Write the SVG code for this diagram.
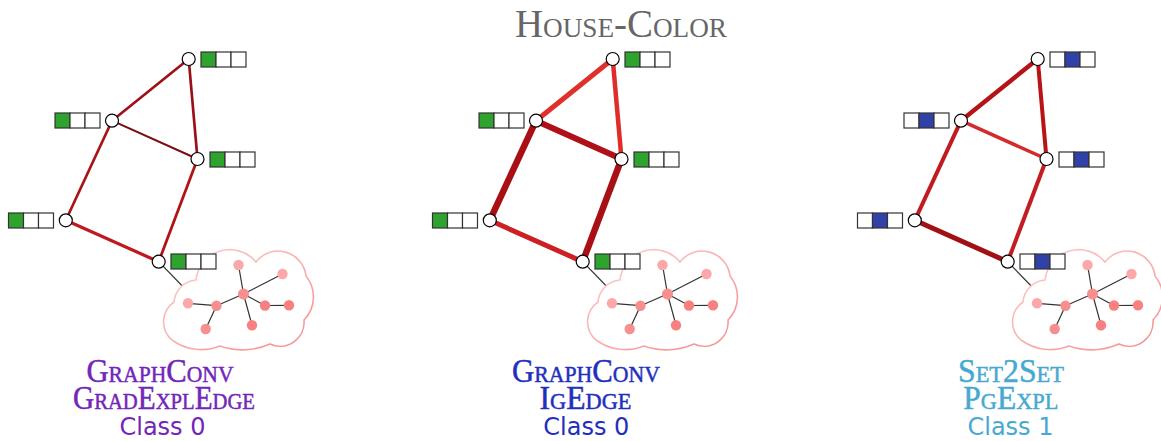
<svg xmlns="http://www.w3.org/2000/svg" width="1161" height="441" viewBox="0 0 1161 441">
<style>
  .node { fill: #ffffff; stroke: #000000; stroke-width: 1.2; }
  .cell { fill: #ffffff; stroke: #333333; stroke-width: 1.2; }
  .g { fill: #2ea32e; }
  .b { fill: #3041a8; }
  .edge { fill: none; stroke-linecap: butt; }
  .link { stroke: #333333; stroke-width: 1.2; }
  .cloud { fill: #ffffff; stroke: url(#cloudGrad); stroke-width: 1.6; }
  .ie { stroke: #333333; stroke-width: 1.2; }
  .c1 { fill: #fca8a8; }
  .c2 { fill: #f98e8e; }
  .c3 { fill: #f98080; }
  .title { font-family: "Liberation Serif", serif; font-size: 40px; font-variant: small-caps; fill: #666666; text-anchor: middle; }
  .lab { font-family: "Liberation Serif", serif; font-size: 34px; font-variant: small-caps; text-anchor: middle; stroke-width: 0.5; }
  .cls { font-family: "DejaVu Sans", sans-serif; font-size: 24px; text-anchor: middle; }
  .purple { fill: #7326b8; stroke: #7326b8; }
  .blue { fill: #1f30bd; stroke: #1f30bd; }
  .sky { fill: #47a9d1; stroke: #47a9d1; }
  .cls.purple, .cls.blue, .cls.sky { stroke: none; }
</style>
<defs>
  <linearGradient id="cloudGrad" x1="0" y1="0" x2="1" y2="1">
    <stop offset="0" stop-color="#fdd2d2"/>
    <stop offset="1" stop-color="#f78c8c"/>
  </linearGradient>
  <g id="cloudShape">
    <path class="cloud" d="M 172,340 A 24 24 0 0 1 174,302 A 24 24 0 0 1 196,280 A 34 34 0 0 1 256,262 A 28 28 0 0 1 306,276 A 33 33 0 0 1 304,320 A 24 24 0 0 1 270,344 A 70 70 0 0 1 220,346 A 50 50 0 0 1 172,340 Z"/>
    <line class="ie" x1="238.5" y1="265" x2="243.5" y2="294"/>
    <line class="ie" x1="282.5" y1="274" x2="243.5" y2="294"/>
    <line class="ie" x1="243.5" y1="294" x2="216.5" y2="305.7"/>
    <line class="ie" x1="243.5" y1="294" x2="265" y2="305.5"/>
    <line class="ie" x1="243.5" y1="294" x2="252" y2="325.2"/>
    <line class="ie" x1="265" y1="305.5" x2="289" y2="305.3"/>
    <line class="ie" x1="216.5" y1="305.7" x2="188" y2="303.3"/>
    <line class="ie" x1="216.5" y1="305.7" x2="205.7" y2="329"/>
    <circle class="c1" cx="238.5" cy="265" r="5.2"/>
    <circle class="c1" cx="282.5" cy="274" r="5.2"/>
    <circle class="c1" cx="188" cy="303.3" r="5.2"/>
    <circle class="c2" cx="243.5" cy="294" r="5.5"/>
    <circle class="c2" cx="216.5" cy="305.7" r="5.2"/>
    <circle class="c2" cx="205.7" cy="329" r="5.2"/>
    <circle class="c3" cx="252" cy="325.2" r="5.2"/>
    <circle class="c3" cx="265" cy="305.5" r="5.2"/>
    <circle class="c3" cx="289" cy="305.3" r="5.2"/>
  </g>
</defs>

<text class="title" x="621" y="37" textLength="212" lengthAdjust="spacingAndGlyphs">House-Color</text>

<!-- Panel 1 -->
<g id="panel1">
  <g id="p1-connectors">
    <line class="edge" x1="112" y1="120.7" x2="188.7" y2="59" stroke="#a01018" stroke-width="2.7"/>
    <line class="edge" x1="188.7" y1="59" x2="197.5" y2="159" stroke="#991018" stroke-width="2.7"/>
    <line class="edge" x1="112" y1="120.7" x2="197.5" y2="159" stroke="#7a0c14" stroke-width="2"/>
    <line class="edge" x1="112" y1="120.7" x2="65.8" y2="220.3" stroke="#a81218" stroke-width="2.7"/>
    <line class="edge" x1="65.8" y1="220.3" x2="158.7" y2="261.7" stroke="#c01820" stroke-width="3.2"/>
    <line class="edge" x1="197.5" y1="159" x2="158.7" y2="261.7" stroke="#b01418" stroke-width="2.8"/>
    <line class="link" x1="158.7" y1="261.7" x2="190" y2="294"/>
  </g>
  <g id="p1-cloud"><use href="#cloudShape"/></g>
  <g id="p1-n-top"><circle class="node" cx="188.7" cy="59" r="6.5"/><rect class="cell g" x="201" y="52" width="15" height="15"/><rect class="cell" x="216" y="52" width="15" height="15"/><rect class="cell" x="231" y="52" width="15" height="15"/></g>
  <g id="p1-n-ul"><circle class="node" cx="112" cy="120.7" r="6.5"/><rect class="cell g" x="55" y="113" width="15" height="15"/><rect class="cell" x="70" y="113" width="15" height="15"/><rect class="cell" x="85" y="113" width="15" height="15"/></g>
  <g id="p1-n-r"><circle class="node" cx="197.5" cy="159" r="6.5"/><rect class="cell g" x="210" y="152" width="15" height="15"/><rect class="cell" x="225" y="152" width="15" height="15"/><rect class="cell" x="240" y="152" width="15" height="15"/></g>
  <g id="p1-n-l"><circle class="node" cx="65.8" cy="220.3" r="6.5"/><rect class="cell g" x="8.5" y="213" width="15" height="15"/><rect class="cell" x="23.5" y="213" width="15" height="15"/><rect class="cell" x="38.5" y="213" width="15" height="15"/></g>
  <g id="p1-n-b"><circle class="node" cx="158.7" cy="261.7" r="6.5"/><rect class="cell g" x="171" y="254" width="15" height="15"/><rect class="cell" x="186" y="254" width="15" height="15"/><rect class="cell" x="201" y="254" width="15" height="15"/></g>
  <g id="p1-labels">
    <text class="lab purple" x="160" y="382" textLength="147" lengthAdjust="spacingAndGlyphs">GraphConv</text>
    <text class="lab purple" x="164" y="409" textLength="182" lengthAdjust="spacingAndGlyphs">GradExplEdge</text>
    <text class="cls purple" x="162.5" y="435">Class 0</text>
  </g>
</g>

<!-- Panel 2 -->
<g id="panel2" transform="translate(424,0)">
  <g id="p2-connectors">
    <line class="edge" x1="112" y1="120.7" x2="188.7" y2="59" stroke="#e0302c" stroke-width="5"/>
    <line class="edge" x1="188.7" y1="59" x2="197.5" y2="159" stroke="#df2e2a" stroke-width="4.5"/>
    <line class="edge" x1="112" y1="120.7" x2="197.5" y2="159" stroke="#b01018" stroke-width="6"/>
    <line class="edge" x1="112" y1="120.7" x2="65.8" y2="220.3" stroke="#a81016" stroke-width="6.5"/>
    <line class="edge" x1="65.8" y1="220.3" x2="158.7" y2="261.7" stroke="#cc2024" stroke-width="5"/>
    <line class="edge" x1="197.5" y1="159" x2="158.7" y2="261.7" stroke="#a81016" stroke-width="6.5"/>
    <line class="link" x1="158.7" y1="261.7" x2="190" y2="294"/>
  </g>
  <g id="p2-cloud"><use href="#cloudShape"/></g>
  <g id="p2-n-top"><circle class="node" cx="188.7" cy="59" r="6.5"/><rect class="cell g" x="201" y="52" width="15" height="15"/><rect class="cell" x="216" y="52" width="15" height="15"/><rect class="cell" x="231" y="52" width="15" height="15"/></g>
  <g id="p2-n-ul"><circle class="node" cx="112" cy="120.7" r="6.5"/><rect class="cell g" x="55" y="113" width="15" height="15"/><rect class="cell" x="70" y="113" width="15" height="15"/><rect class="cell" x="85" y="113" width="15" height="15"/></g>
  <g id="p2-n-r"><circle class="node" cx="197.5" cy="159" r="6.5"/><rect class="cell g" x="210" y="152" width="15" height="15"/><rect class="cell" x="225" y="152" width="15" height="15"/><rect class="cell" x="240" y="152" width="15" height="15"/></g>
  <g id="p2-n-l"><circle class="node" cx="65.8" cy="220.3" r="6.5"/><rect class="cell g" x="8.5" y="213" width="15" height="15"/><rect class="cell" x="23.5" y="213" width="15" height="15"/><rect class="cell" x="38.5" y="213" width="15" height="15"/></g>
  <g id="p2-n-b"><circle class="node" cx="158.7" cy="261.7" r="6.5"/><rect class="cell g" x="171" y="254" width="15" height="15"/><rect class="cell" x="186" y="254" width="15" height="15"/><rect class="cell" x="201" y="254" width="15" height="15"/></g>
  <g id="p2-labels">
    <text class="lab blue" x="162" y="382" textLength="148" lengthAdjust="spacingAndGlyphs">GraphConv</text>
    <text class="lab blue" x="161.5" y="409" textLength="92" lengthAdjust="spacingAndGlyphs">IgEdge</text>
    <text class="cls blue" x="162.3" y="435">Class 0</text>
  </g>
</g>

<!-- Panel 3 -->
<g id="panel3" transform="translate(849,0)">
  <g id="p3-connectors">
    <line class="edge" x1="112" y1="120.7" x2="188.7" y2="59" stroke="#b41418" stroke-width="4.5"/>
    <line class="edge" x1="188.7" y1="59" x2="197.5" y2="159" stroke="#b81418" stroke-width="4"/>
    <line class="edge" x1="112" y1="120.7" x2="197.5" y2="159" stroke="#d42a2c" stroke-width="3.5"/>
    <line class="edge" x1="112" y1="120.7" x2="65.8" y2="220.3" stroke="#c01c20" stroke-width="4"/>
    <line class="edge" x1="65.8" y1="220.3" x2="158.7" y2="261.7" stroke="#a01014" stroke-width="5"/>
    <line class="edge" x1="197.5" y1="159" x2="158.7" y2="261.7" stroke="#c41c20" stroke-width="4"/>
    <line class="link" x1="158.7" y1="261.7" x2="190" y2="294"/>
  </g>
  <g id="p3-cloud"><use href="#cloudShape"/></g>
  <g id="p3-n-top"><circle class="node" cx="188.7" cy="59" r="6.5"/><rect class="cell" x="201" y="52" width="15" height="15"/><rect class="cell b" x="216" y="52" width="15" height="15"/><rect class="cell" x="231" y="52" width="15" height="15"/></g>
  <g id="p3-n-ul"><circle class="node" cx="112" cy="120.7" r="6.5"/><rect class="cell" x="55" y="113" width="15" height="15"/><rect class="cell b" x="70" y="113" width="15" height="15"/><rect class="cell" x="85" y="113" width="15" height="15"/></g>
  <g id="p3-n-r"><circle class="node" cx="197.5" cy="159" r="6.5"/><rect class="cell" x="210" y="152" width="15" height="15"/><rect class="cell b" x="225" y="152" width="15" height="15"/><rect class="cell" x="240" y="152" width="15" height="15"/></g>
  <g id="p3-n-l"><circle class="node" cx="65.8" cy="220.3" r="6.5"/><rect class="cell" x="8.5" y="213" width="15" height="15"/><rect class="cell b" x="23.5" y="213" width="15" height="15"/><rect class="cell" x="38.5" y="213" width="15" height="15"/></g>
  <g id="p3-n-b"><circle class="node" cx="158.7" cy="261.7" r="6.5"/><rect class="cell" x="171" y="254" width="15" height="15"/><rect class="cell b" x="186" y="254" width="15" height="15"/><rect class="cell" x="201" y="254" width="15" height="15"/></g>
  <g id="p3-labels">
    <text class="lab sky" x="162" y="382" textLength="106" lengthAdjust="spacingAndGlyphs">Set2Set</text>
    <text class="lab sky" x="161.8" y="409" textLength="95" lengthAdjust="spacingAndGlyphs">PgExpl</text>
    <text class="cls sky" x="161.5" y="435">Class 1</text>
  </g>
</g>
</svg>
